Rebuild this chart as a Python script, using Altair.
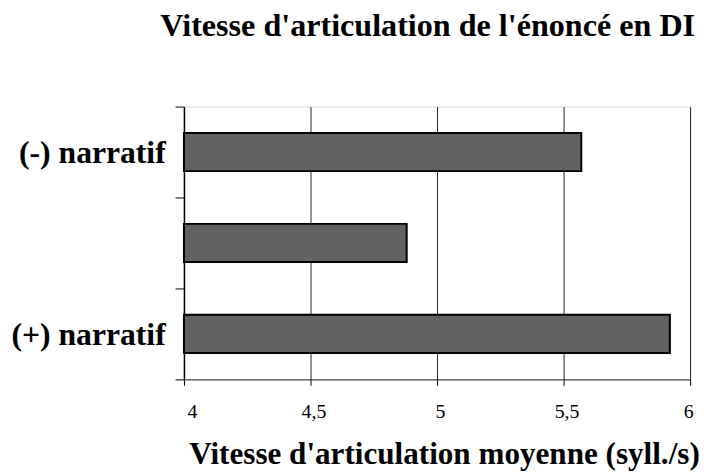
import altair as alt
import pandas as pd

categories = ["(-) narratif", " ", "(+) narratif"]
values = [5.57, 4.88, 5.92]
x_ticks = [4, 4.5, 5, 5.5, 6]
x_start = 4

df = pd.DataFrame({"cat": categories, "val": values, "start": [x_start] * len(values)})

FONT = "Liberation Serif"

chart = alt.Chart(df).mark_bar(
    height={"band": 0.42},
    fill="#626262",
    stroke="black",
    strokeWidth=2,
).encode(
    x=alt.X(
        "val:Q",
        scale=alt.Scale(domain=[4, 6], zero=False, nice=False),
        axis=alt.Axis(
            values=x_ticks,
            labelExpr="replace(format(datum.value, '~g'), '.', ',')",
            labelFont=FONT,
            labelFontSize=20,
            labelColor="black",
            labelPadding=17,
            labelOffset=3,
            tickSize=6,
            tickColor="black",
            domainColor="#222",
            grid=True,
            gridColor="#222",
            gridWidth=1,
            title="Vitesse d'articulation moyenne (syll./s)",
            titleFont=FONT,
            titleFontSize=31.5,
            titleFontWeight="bold",
            titleColor="black",
            titleX=263,
            titleY=85,
            titleAlign="center",
            titleBaseline="alphabetic",
        ),
    ),
    x2="start:Q",
    y=alt.Y(
        "cat:N",
        sort=categories,
        scale=alt.Scale(paddingInner=0, paddingOuter=0),
        axis=alt.Axis(
            title=None,
            tickBand="extent",
            tickSize=9,
            tickColor="black",
            domainColor="black",
            domainWidth=1.5,
            grid=False,
            labelFont=FONT,
            labelFontSize=32,
            labelFontWeight="bold",
            labelColor="black",
            labelPadding=10,
            labelBaseline="alphabetic",
            labelOffset=11,
        ),
    ),
).properties(
    width=512,
    height=276,
    title=alt.TitleParams(
        text="Vitesse d'articulation de l'énoncé en DI",
        font=FONT,
        fontSize=32.5,
        fontWeight="bold",
        color="black",
        anchor="middle",
        dx=-9.5,
        baseline="alphabetic",
        offset=13,
    ),
    autosize=alt.AutoSizeParams(type="none"),
    padding={"left": 178, "top": 97, "right": 11, "bottom": 92},
).configure_view(stroke=None).configure(background="white")

chart.save("out.html", embed_options={"renderer": "svg", "actions": False})
